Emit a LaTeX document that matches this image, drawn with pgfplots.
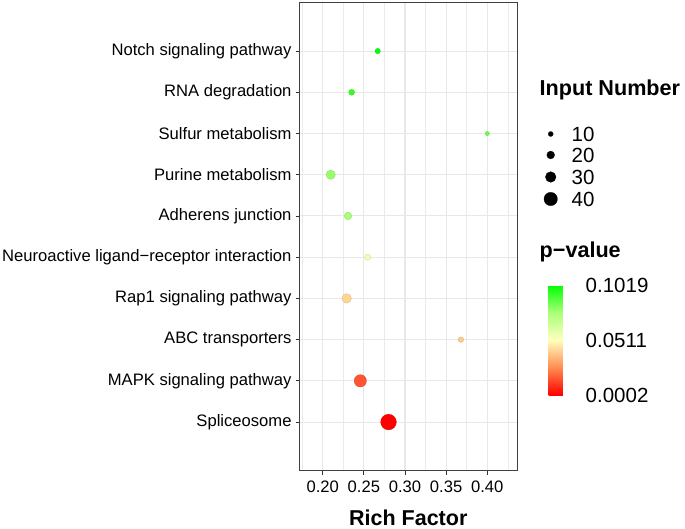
\documentclass[border=0pt]{standalone}
\usepackage{pgfplots}
\pgfplotsset{compat=1.18}
\usepackage{pgfplotstable}
\usepackage{fontspec}
\setmainfont{Liberation Sans}

\pgfplotstableread{
idx rf p n
1 0.2800 0.0002 48
2 0.2457 0.0155 36
3 0.3680 0.0398 12
4 0.2291 0.0418 26
5 0.2546 0.0561 14
6 0.2307 0.0765 19
7 0.2097 0.0795 25
8 0.4000 0.0866 7
9 0.2352 0.0943 13
10 0.2668 0.1019 11
}\datatable

\pgfplotstableread{
x y n
550.7 394 10
550.7 373 20
550.7 351 30
550.7 329 40
}\sizelegend

\pgfplotsset{
  colormap={pval}{rgb255(0cm)=(255,0,0); rgb255(1cm)=(255,140,80); rgb255(2cm)=(255,255,190); rgb255(3cm)=(170,255,120); rgb255(4cm)=(0,255,0)},
  sizemap/.style={visualization depends on={\thisrow{n} \as \nval},
    scatter/@pre marker code/.append style={/tikz/mark size={(2.3+0.28*\nval)/2}}},
}

\begin{document}
\begin{tikzpicture}[x=1pt,y=1pt]
\useasboundingbox (0,0) rectangle (685,528);
\begin{axis}[
  at={(299.5pt,57.3pt)}, anchor=south west,
  scale only axis, width=217.5pt, height=468.7pt,
  xmin=0.1718, xmax=0.4361, ymin=-0.18, ymax=11.19,
  xtick={0.20,0.25,0.30,0.35,0.40},
  xticklabels={0.20,0.25,0.30,0.35,0.40},
  minor xtick={0.175,0.225,0.275,0.325,0.375,0.425},
  ytick={1,...,10},
  yticklabels={Spliceosome, MAPK signaling pathway, ABC transporters, Rap1 signaling pathway, Neuroactive ligand−receptor interaction, Adherens junction, Purine metabolism, Sulfur metabolism, RNA degradation, Notch signaling pathway},
  grid=both,
  major grid style={black!9, line width=1.1pt},
  minor grid style={black!8, line width=0.6pt},
  tick align=outside, major tick length=4pt, minor tick length=0pt,
  xtick pos=bottom, ytick pos=left,
  tick style={black!80, line width=0.8pt},
  axis line style={black!75, line width=0.9pt},
  /pgf/number format/assume math mode=true,
  tick label style={font=\fontsize{16.6}{18}\selectfont, text=black},
  yticklabel style={anchor=east, inner sep=0pt, xshift=-3.8pt},
  xticklabel style={anchor=north, inner sep=0pt, yshift=-6pt},
  xlabel={Rich Factor},
  xlabel style={at={(axis description cs:0.5,0)}, anchor=base, yshift=-54.3pt, font=\bfseries\fontsize{21.5}{24}\selectfont},
  colormap name=pval,
  point meta min=0.0002, point meta max=0.1019,
  colorbar,
  colorbar style={
    at={(parent axis.south east)}, anchor=south west, xshift=23pt, yshift=75.7pt,
    scale only axis, width=22pt, height=110pt,
    ytick={0.0002,0.0511,0.1019}, yticklabels={0.0002,0.0511,0.1019},
    yticklabel pos=right,
    /pgf/number format/assume math mode=true,
    yticklabel style={font=\fontsize{20.5}{22}\selectfont, anchor=west, inner sep=0pt, xshift=15pt},
    axis line style={draw=none},
    major tick length=0pt,
  },
  clip=false,
]
\addplot[scatter, only marks, mark=*, scatter src=explicit, sizemap,
  mark options={line width=0.2pt}]
  table[x=rf, y=idx, meta=p] {\datatable};
\end{axis}
\begin{axis}[
  at={(0pt,0pt)}, anchor=south west, scale only axis,
  width=685pt, height=528pt, xmin=0, xmax=685, ymin=0, ymax=528,
  hide axis, clip=false,
]
\addplot[scatter, only marks, mark=*, point meta=\thisrow{n},
  scatter/use mapped color={draw=black, fill=black}, sizemap, mark options={line width=0.2pt}]
  table[x=x, y=y] {\sizelegend};
\node[anchor=base west, inner sep=0pt, font=\bfseries\fontsize{21.6}{24}\selectfont] at (axis cs:539.5,432) {Input Number};
\node[anchor=base west, inner sep=0pt, font=\fontsize{20.5}{22}\selectfont] at (axis cs:571.5,386.7) {10};
\node[anchor=base west, inner sep=0pt, font=\fontsize{20.5}{22}\selectfont] at (axis cs:571.5,365.7) {20};
\node[anchor=base west, inner sep=0pt, font=\fontsize{20.5}{22}\selectfont] at (axis cs:571.5,343.7) {30};
\node[anchor=base west, inner sep=0pt, font=\fontsize{20.5}{22}\selectfont] at (axis cs:571.5,321.7) {40};
\node[anchor=base west, inner sep=0pt, font=\bfseries\fontsize{21.6}{24}\selectfont] at (axis cs:539.5,270) {p−value};
\end{axis}
\end{tikzpicture}
\end{document}
